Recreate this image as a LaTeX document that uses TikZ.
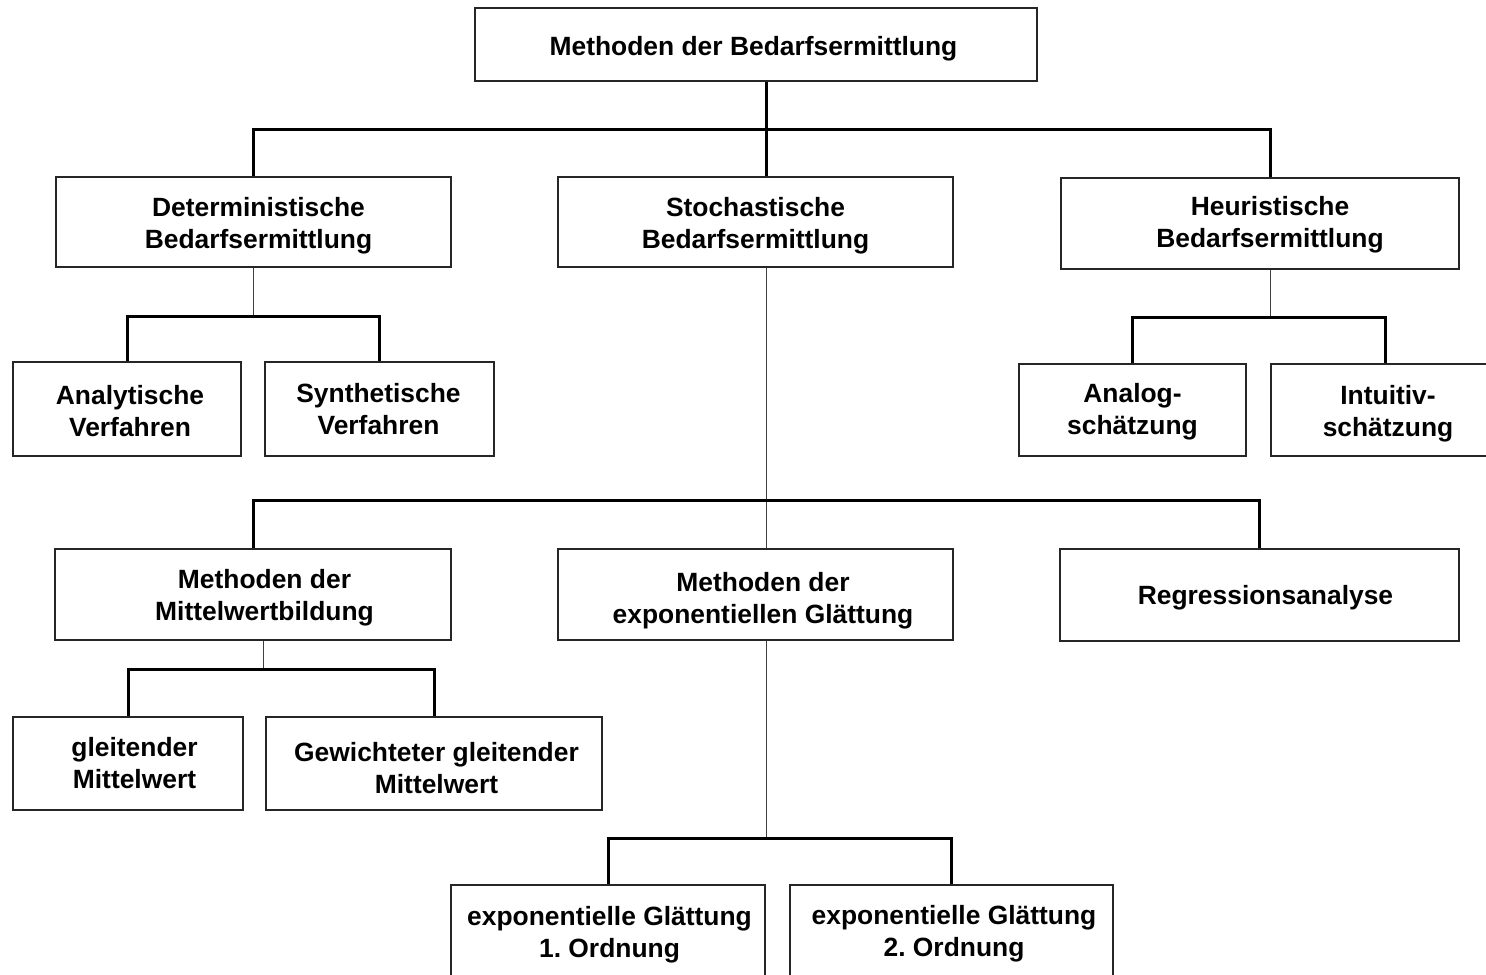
\documentclass[tikz,border=0pt]{standalone}
\usepackage{fontspec}
\setmainfont{Liberation Sans}
% #1 = horizontal shift, #2 = vertical shift (both in picture pixels)
\newcommand\two[4]{\rule{0pt}{\dimexpr9.6pt+#2pt\relax}\hspace*{#1pt}#3\\\hspace*{#1pt}#4}
\newcommand\one[3]{\rule{0pt}{\dimexpr9.6pt+#2pt\relax}\hspace*{#1pt}#3}
\begin{document}
\frenchspacing
\begin{tikzpicture}[x=0.5pt,y=-0.5pt,
  box/.style={draw=black!85,line width=0.7pt,fill=white,inner sep=0pt,align=center,
    font=\bfseries\fontsize{13.2}{16}\selectfont\frenchspacing},
  thickc/.style={line width=1.5pt,black},
  thinc/.style={line width=0.5pt,black!75},
]
\useasboundingbox (0,0) rectangle (1486,974);
% nodes
\node[box,minimum width=281pt,minimum height=36.5pt] (top) at (756,44.5) {\one{-2.5}{4}{Methoden der Bedarfsermittlung}};
\node[box,minimum width=197.5pt,minimum height=45pt] (det) at (253.5,222) {\two{5}{4}{Deterministische}{Bedarfsermittlung}};
\node[box,minimum width=197.5pt,minimum height=45pt] (sto) at (755.5,222) {\two{0}{4}{Stochastische}{Bedarfsermittlung}};
\node[box,minimum width=199pt,minimum height=45.5pt] (heu) at (1260,223.5) {\two{10}{1}{Heuristische}{Bedarfsermittlung}};
\node[box,minimum width=114pt,minimum height=47pt] (ana) at (127,409) {\two{3}{2}{Analytische}{Verfahren}};
\node[box,minimum width=114.5pt,minimum height=47pt] (syn) at (379.5,409) {\two{-1}{0}{Synthetische}{Verfahren}};
\node[box,minimum width=113.5pt,minimum height=46pt] (analog) at (1132.5,410) {\two{0}{2}{Analog-}{schätzung}};
\node[box,minimum width=117pt,minimum height=46pt] (intu) at (1388,410) {\two{0}{4}{Intuitiv-}{schätzung}};
\node[box,minimum width=198pt,minimum height=45.5pt] (mit) at (253,594.5) {\two{11.5}{3}{Methoden der}{Mittelwertbildung}};
\node[box,minimum width=197.5pt,minimum height=45.5pt] (exp) at (755.5,594.5) {\two{7.5}{6}{Methoden der}{exponentiellen Glättung}};
\node[box,minimum width=199.5pt,minimum height=46pt] (reg) at (1259.5,595) {\one{6}{3}{Regressionsanalyse}};
\node[box,minimum width=115pt,minimum height=46.5pt] (gl) at (128,763.5) {\two{6.5}{0}{gleitender}{Mittelwert}};
\node[box,minimum width=168pt,minimum height=46.5pt] (gew) at (434,763.5) {\two{2.5}{5}{Gewichteter gleitender}{Mittelwert}};
\node[box,minimum width=157pt,minimum height=46pt] (o1) at (608,931) {\two{1.5}{4}{exponentielle Glättung}{1. Ordnung}};
\node[box,minimum width=161.5pt,minimum height=46pt] (o2) at (951.5,931) {\two{2.5}{3}{exponentielle Glättung}{2. Ordnung}};
% junctions
\coordinate (j0) at (766,129);
\coordinate (jd) at (253,316);
\coordinate (jh) at (1270,317);
\coordinate (js) at (766,500);
\coordinate (jm) at (263,669);
\coordinate (je) at (766,838);
% top level
\draw[thickc] (top.south -| j0) -- (j0);
\draw[thickc] (j0) -| (det.north);
\draw[thickc] (j0) -- (sto.north -| j0);
\draw[thickc] (j0) -| ([xshift=5pt]heu.north);
% deterministic
\draw[thinc] (det.south -| jd) -- (jd);
\draw[thickc] (jd) -| (ana.north);
\draw[thickc] (jd) -| (syn.north);
% heuristic
\draw[thinc] (heu.south -| jh) -- (jh);
\draw[thickc] (jh) -| (analog.north);
\draw[thickc] (jh) -| ([xshift=-1.5pt]intu.north);
% stochastic
\draw[thinc] (sto.south -| js) -- (exp.north -| js);
\draw[thickc] (js) -| (mit.north);
\draw[thickc] (js) -| (reg.north);
% mittelwert
\draw[thinc] (mit.south -| jm) -- (jm);
\draw[thickc] (jm) -| (gl.north);
\draw[thickc] (jm) -| (gew.north);
% exponential
\draw[thinc] (exp.south -| je) -- (je);
\draw[thickc] (je) -| (o1.north);
\draw[thickc] (je) -| (o2.north);
\end{tikzpicture}
\end{document}
